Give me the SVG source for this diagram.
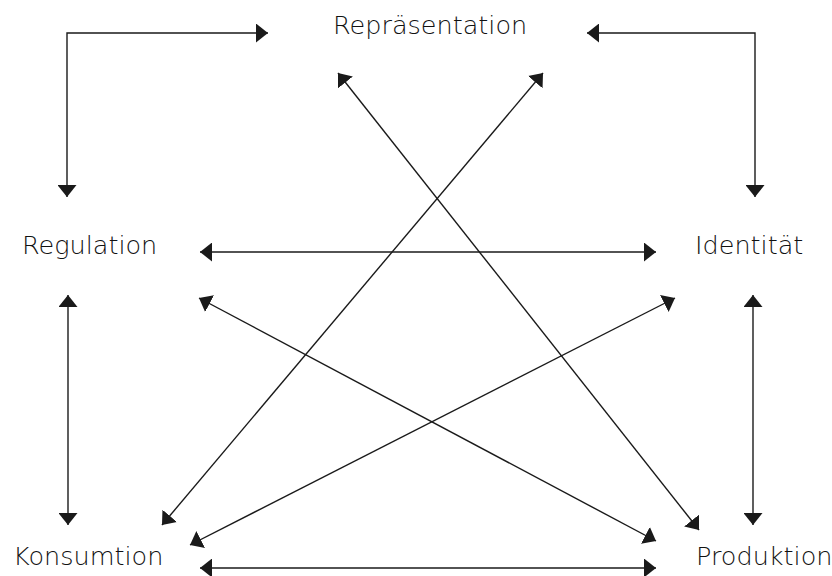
<svg xmlns="http://www.w3.org/2000/svg" width="832" height="576" viewBox="0 0 832 576">
<defs>
<marker id="ah" markerUnits="userSpaceOnUse" markerWidth="12" markerHeight="19" refX="12" refY="9.5" orient="auto-start-reverse" viewBox="0 0 12 19">
<path d="M0,0 L12,9.5 L0,19 Z" fill="#1a1a1a"/>
</marker>
<style>
.lbl{font-family:"DejaVu Sans","Liberation Sans",sans-serif;font-size:25.5px;font-weight:200;fill:#111111}
.c{fill:none;stroke:#1a1a1a;stroke-width:1.4;marker-start:url(#ah);marker-end:url(#ah)}
</style>
</defs>
<rect width="832" height="576" fill="#ffffff"/>
<g id="connectors">
<path class="c" d="M67,197 L67,33 L268,33"/>
<path class="c" d="M587,33 L755,33 L755,197"/>
<path class="c" d="M200,252 L656,252"/>
<path class="c" d="M68,295 L68,525"/>
<path class="c" d="M753,295 L753,525"/>
<path class="c" d="M200,568 L656,568"/>
<path class="c" d="M199,298 L656,541"/>
<path class="c" d="M675,298 L190,545"/>
<path class="c" d="M338,73 L699,530"/>
<path class="c" d="M543,73 L162,525"/>
</g>
<g id="repraesentation"><text class="lbl" x="333" y="34">Repräsentation</text></g>
<g id="regulation"><text class="lbl" x="22" y="254">Regulation</text></g>
<g id="identitaet"><text class="lbl" x="695" y="254">Identität</text></g>
<g id="konsumtion"><text class="lbl" x="13" y="565">Konsumtion</text></g>
<g id="produktion"><text class="lbl" x="696" y="565">Produktion</text></g>
</svg>
